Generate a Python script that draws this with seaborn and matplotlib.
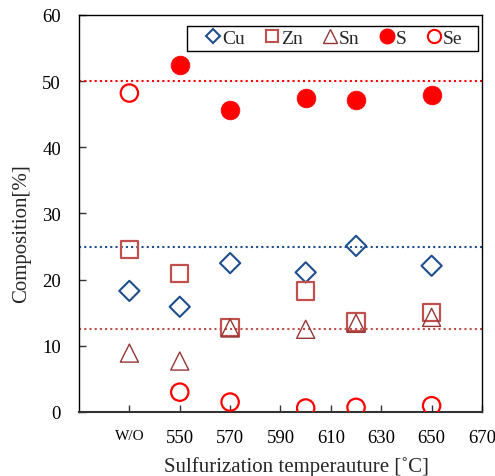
import matplotlib
matplotlib.use("Agg")
import matplotlib.pyplot as plt
import matplotlib.patches as mpatches
import seaborn as sns
from matplotlib.lines import Line2D

sns.set_style("ticks")
plt.rcParams['font.family'] = ['Liberation Serif', 'DejaVu Serif']

temps = [530, 550, 570, 600, 620, 650]
tick_pos = [530, 550, 570, 590, 610, 630, 650, 670]
tick_labels = ["W/O", "550", "570", "590", "610", "630", "650", "670"]
cu = [18.3, 15.9, 22.5, 21.1, 25.1, 22.1]
zn = [24.6, 20.9, 12.8, 18.3, 13.6, 15.0]
sn = [8.9, 7.7, 12.7, 12.5, 13.4, 14.3]
s_temps = [550, 570, 600, 620, 650]
s_vals = [52.5, 45.6, 47.5, 47.2, 47.9]
se = [48.2, 3.0, 1.5, 0.6, 0.7, 0.95]
ref_lines = [50, 25, 12.5]

blue = "#1F4E8C"
zn_c = "#C0504D"
sn_c = "#943634"
red = "#FF0000"

fig = plt.figure(figsize=(4.95, 4.77), dpi=100)
ax = fig.add_axes([0.1596, 0.1342, 0.9737 - 0.1596, 0.9665 - 0.1342])

dots = (0, (1, 1.5))
ax.axhline(ref_lines[0], color=red, ls=dots, lw=1.5, zorder=1)
ax.axhline(ref_lines[1], color=blue, ls=dots, lw=1.5, zorder=1)
ax.axhline(ref_lines[2], color=zn_c, ls=dots, lw=1.5, zorder=1)

sns.scatterplot(x=temps, y=cu, marker="D", s=10.3**2, facecolor="none", edgecolor=blue, linewidth=1.5, ax=ax, zorder=3)
sns.scatterplot(x=temps, y=zn, marker="s", s=12.5**2, facecolor="none", edgecolor=zn_c, linewidth=1.6, ax=ax, zorder=3)
sns.scatterplot(x=temps, y=sn, marker="^", s=13**2, facecolor="none", edgecolor=sn_c, linewidth=1.0, ax=ax, zorder=3)
sns.scatterplot(x=s_temps, y=s_vals, marker="o", s=13.5**2, color=red, edgecolor=red, linewidth=0.5, ax=ax, zorder=3)
sns.scatterplot(x=temps, y=se, marker="o", s=12.5**2, facecolor="none", edgecolor=red, linewidth=1.6, ax=ax, zorder=3)

ax.set_xlim(510, 670)
ax.set_ylim(0, 60)
ax.set_xticks(tick_pos)
ax.set_xticklabels(tick_labels)
ax.set_yticks(range(0, 61, 10))
ax.tick_params(direction="in", length=5, width=1, colors="#333333", labelcolor="black", labelsize=13.5)
ax.tick_params(axis="x", pad=12.5)
ax.tick_params(axis="y", pad=13)
ax.get_xticklabels()[0].set_fontsize(11)
for sp in ax.spines.values():
    sp.set_color("black")
    sp.set_linewidth(1.0)
ax.spines["bottom"].set_color("#333333")
ax.spines["bottom"].set_linewidth(1.5)

ax.set_xlabel("Sulfurization temperauture [˚C]", fontsize=15)
ax.xaxis.set_label_coords(0.54, -0.112)
ax.set_ylabel("Composition[%]", fontsize=15)
ax.yaxis.set_label_coords(-0.118, 0.451)

handles = [
    Line2D([], [], ls="none", marker="D", ms=7, mfc="none", mec=blue, mew=1.5),
    Line2D([], [], ls="none", marker="s", ms=9, mfc="none", mec=zn_c, mew=1.5),
    Line2D([], [], ls="none", marker="^", ms=10, mfc="none", mec=sn_c, mew=1.0),
    Line2D([], [], ls="none", marker="o", ms=10.5, mfc=red, mec=red),
    Line2D([], [], ls="none", marker="o", ms=9.5, mfc="none", mec=red, mew=1.5),
]
leg = ax.legend(handles, ["Cu", "Zn", "Sn", "S", "Se"], ncol=5, loc="center",
                bbox_to_anchor=(0.635, 0.9408), fontsize=14, frameon=False,
                handlelength=0.6, handletextpad=0.16, columnspacing=1.1,
                borderpad=0, borderaxespad=0)
leg.set_zorder(6)
frame = mpatches.Rectangle((0.268, 0.909), 0.722, 0.063, transform=ax.transAxes,
                           fill=True, facecolor="white", edgecolor="black", lw=1.0, zorder=5)
ax.add_patch(frame)

fig.savefig("out.png", dpi=100)
